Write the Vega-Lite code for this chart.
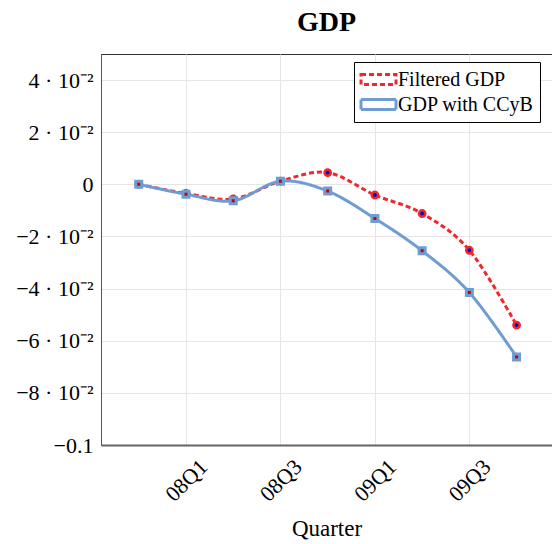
{
  "$schema": "https://vega.github.io/schema/vega-lite/v6.json",
  "width": 451,
  "height": 391,
  "autosize": {"type": "none"},
  "padding": {"left": 101, "top": 54, "right": 0, "bottom": 99},
  "background": "white",
  "title": {"text": "GDP", "font": "Liberation Serif", "fontSize": 28, "fontWeight": "bold", "offset": 17, "anchor": "middle", "color": "black"},
  "config": {
    "view": {"stroke": "#333", "strokeWidth": 1},
    "font": "Liberation Serif",
    "legend": {
      "title": null, "orient": "none", "legendX": 253, "legendY": 8,
      "strokeColor": "black", "fillColor": "white", "padding": 6, "cornerRadius": 0,
      "labelFont": "Liberation Serif", "labelFontSize": 20, "labelColor": "black", "labelOffset": 8,
      "rowPadding": 2, "labelLimit": 300,
      "symbolType": "M-1.75,-0.5L1.75,-0.5L1.75,0.5L-1.75,0.5Z", "symbolSize": 400, "symbolOffset": 7, "symbolStrokeWidth": 3, "symbolFillColor": "transparent"
    }
  },
  "data": {"values": [
    {"q": 0, "series": "Filtered GDP", "value": 0.0},
    {"q": 1, "series": "Filtered GDP", "value": -0.0035},
    {"q": 2, "series": "Filtered GDP", "value": -0.0056},
    {"q": 3, "series": "Filtered GDP", "value": 0.0012},
    {"q": 4, "series": "Filtered GDP", "value": 0.0045},
    {"q": 5, "series": "Filtered GDP", "value": -0.0041},
    {"q": 6, "series": "Filtered GDP", "value": -0.0112},
    {"q": 7, "series": "Filtered GDP", "value": -0.0253},
    {"q": 8, "series": "Filtered GDP", "value": -0.054},
    {"q": 0, "series": "GDP with CCyB", "value": 0.0},
    {"q": 1, "series": "GDP with CCyB", "value": -0.0038},
    {"q": 2, "series": "GDP with CCyB", "value": -0.0063},
    {"q": 3, "series": "GDP with CCyB", "value": 0.0012},
    {"q": 4, "series": "GDP with CCyB", "value": -0.0026},
    {"q": 5, "series": "GDP with CCyB", "value": -0.0131},
    {"q": 6, "series": "GDP with CCyB", "value": -0.0255},
    {"q": 7, "series": "GDP with CCyB", "value": -0.0415},
    {"q": 8, "series": "GDP with CCyB", "value": -0.0662}
  ]},
  "encoding": {
    "x": {
      "field": "q", "type": "quantitative",
      "scale": {"domain": [-0.8, 8.75], "nice": false, "zero": false},
      "axis": {
        "title": "Quarter", "titleFont": "Liberation Serif", "titleFontSize": 23, "titleFontWeight": "normal", "titleColor": "black",
        "titleY": 90, "titleBaseline": "alphabetic",
        "values": [1, 3, 5, 7],
        "labelExpr": "datum.value == 1 ? '08Q1' : datum.value == 3 ? '08Q3' : datum.value == 5 ? '09Q1' : '09Q3'",
        "labelAngle": -45, "labelAlign": "center", "labelBaseline": "middle", "labelPadding": 35,
        "labelFont": "Liberation Serif", "labelFontSize": 22, "labelColor": "black",
        "ticks": false, "grid": true, "gridColor": "#e6e6e6", "gridWidth": 1,
        "domainColor": "#666", "domainWidth": 2
      }
    },
    "y": {
      "field": "value", "type": "quantitative",
      "scale": {"domain": [-0.1, 0.05], "nice": false, "zero": false},
      "axis": {
        "title": null,
        "values": [-0.1, -0.08, -0.06, -0.04, -0.02, 0, 0.02, 0.04],
        "labelExpr": "datum.value == 0 ? '0' : datum.value < -0.099 ? '\u22120.1' : (datum.value < 0 ? '\u2212' : '') + format(abs(datum.value) * 100, '.0f') + ' \u00b7 10\u207b\u00b2'",
        "labelFont": "Liberation Serif", "labelFontSize": 22, "labelColor": "black", "labelPadding": 8,
        "ticks": false, "grid": true, "gridColor": "#e6e6e6", "gridWidth": 1,
        "domainColor": "#555", "domainWidth": 1
      }
    }
  },
  "layer": [
    {
      "transform": [{"filter": "datum.series == 'Filtered GDP'"}],
      "mark": {"type": "line", "interpolate": "cardinal", "strokeWidth": 3},
      "encoding": {
        "color": {"field": "series", "type": "nominal", "scale": {"domain": ["Filtered GDP", "GDP with CCyB"], "range": ["#f0282d", "#6d9dd3"]}},
        "strokeDash": {"field": "series", "type": "nominal", "scale": {"domain": ["Filtered GDP", "GDP with CCyB"], "range": [[5, 3], [1, 0]]}}
      }
    },
    {
      "transform": [{"filter": "datum.series == 'Filtered GDP'"}],
      "mark": {"type": "point", "shape": "circle", "filled": true, "size": 40, "fill": "#0010c8", "stroke": "#f0282d", "strokeWidth": 2.5, "opacity": 1},
      "encoding": {}
    },
    {
      "transform": [{"filter": "datum.series == 'GDP with CCyB'"}],
      "mark": {"type": "line", "interpolate": "cardinal", "strokeWidth": 3},
      "encoding": {
        "color": {"field": "series", "type": "nominal", "scale": {"domain": ["Filtered GDP", "GDP with CCyB"], "range": ["#f0282d", "#6d9dd3"]}},
        "strokeDash": {"field": "series", "type": "nominal", "scale": {"domain": ["Filtered GDP", "GDP with CCyB"], "range": [[5, 3], [1, 0]]}}
      }
    },
    {
      "transform": [{"filter": "datum.series == 'GDP with CCyB'"}],
      "mark": {"type": "point", "shape": "square", "filled": true, "size": 36, "fill": "#d00000", "stroke": "#6d9dd3", "strokeWidth": 3, "opacity": 1},
      "encoding": {}
    }
  ]
}
